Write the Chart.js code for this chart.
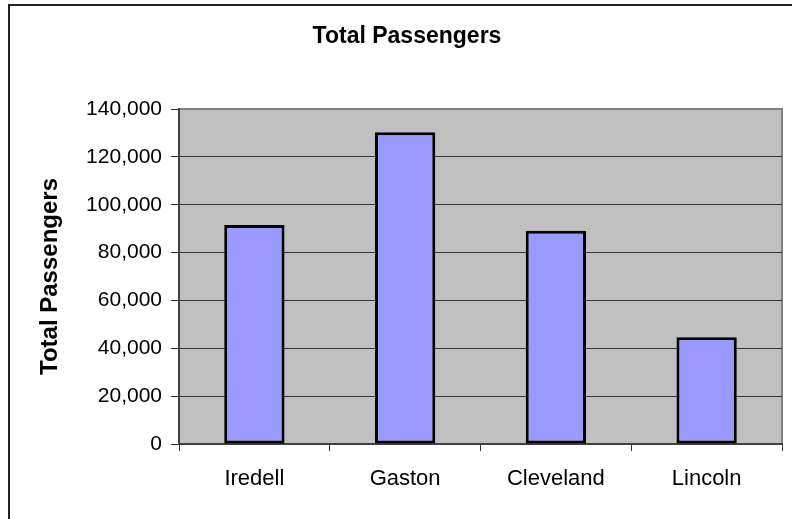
<!DOCTYPE html>
<html>
<head>
<meta charset="utf-8">
<script src="https://cdn.jsdelivr.net/npm/chart.js@4/dist/chart.umd.min.js"></script>
<style>
  body { margin: 0; background: #fff; }
  .frame { position: absolute; left: 8px; top: 4px; width: 820px; height: 540px; border: 2px solid #222; }
  .wrap { position: absolute; left: 0; top: 0; width: 792px; height: 519px; }
</style>
</head>
<body>
<div class="frame"></div>
<div class="wrap"><canvas id="chart"></canvas></div>
<script>
// Data
const counties = ["Iredell", "Gaston", "Cleveland", "Lincoln"];
const totalPassengers = [91500, 130300, 89100, 44600];
const yMin = 0;
const yMax = 140000;
const yStep = 20000;

const fontName = "'Liberation Sans', Arial, sans-serif";

// grijze achtergrond van het plotvlak
const plotBackground = {
    id: "plotBackground",
    beforeDraw(chart) {
        const { ctx, chartArea } = chart;
        ctx.save();
        ctx.fillStyle = "#C0C0C0";
        ctx.fillRect(chartArea.left, chartArea.top, chartArea.right - chartArea.left, chartArea.bottom - chartArea.top);
        ctx.strokeStyle = "#808080";
        ctx.lineWidth = 2;
        ctx.beginPath();
        ctx.moveTo(chartArea.left, chartArea.top);
        ctx.lineTo(chartArea.right, chartArea.top);
        ctx.lineTo(chartArea.right, chartArea.bottom);
        ctx.stroke();
        ctx.restore();
    }
};

new Chart(document.getElementById("chart"), {
    type: "bar",
    data: {
        labels: counties,
        datasets: [
            {
                label: "Total Passengers",
                data: totalPassengers,
                backgroundColor: "#9999FF",
                borderColor: "#000000",
                borderWidth: 3,
                borderSkipped: false,
                barPercentage: 0.4,
                categoryPercentage: 1
            }
        ]
    },
    options: {
        responsive: true,
        maintainAspectRatio: false,
        animation: false,
        layout: { padding: { left: 32, right: 10, top: 0, bottom: 0 } },
        plugins: {
            legend: { display: false },
            tooltip: { enabled: false },
            title: {
                display: true,
                text: "Total Passengers",
                color: "#000",
                font: { family: fontName, size: 23, weight: "bold" },
                padding: { top: 23, bottom: 58.4 }
            }
        },
        scales: {
            x: {
                afterFit(scale) { scale.height = 75; },
                grid: {
                    offset: true,
                    drawOnChartArea: false,
                    drawTicks: true,
                    tickLength: 7,
                    tickColor: "#333",
                    tickWidth: 1
                },
                border: { color: "#404040", width: 2 },
                ticks: {
                    color: "#000",
                    padding: 15,
                    font: { family: fontName, size: 22 }
                }
            },
            y: {
                min: yMin,
                max: yMax,
                afterFit(scale) { scale.width = 147; },
                grid: {
                    color: (c) => (c.tick && c.tick.value === yMax ? "#808080" : "#333"),
                    lineWidth: 1,
                    drawTicks: true,
                    tickLength: 8,
                    tickColor: "#333"
                },
                border: { color: "#404040", width: 2 },
                ticks: {
                    stepSize: yStep,
                    color: "#000",
                    padding: 9,
                    font: { family: fontName, size: 21 },
                    callback: (v) => v.toLocaleString("en-US")
                },
                title: {
                    display: true,
                    text: "Total Passengers",
                    color: "#000",
                    font: { family: fontName, size: 24, weight: "bold" },
                    padding: { top: 4, bottom: 0 }
                }
            }
        }
    },
    plugins: [plotBackground]
});
</script>
</body>
</html>
